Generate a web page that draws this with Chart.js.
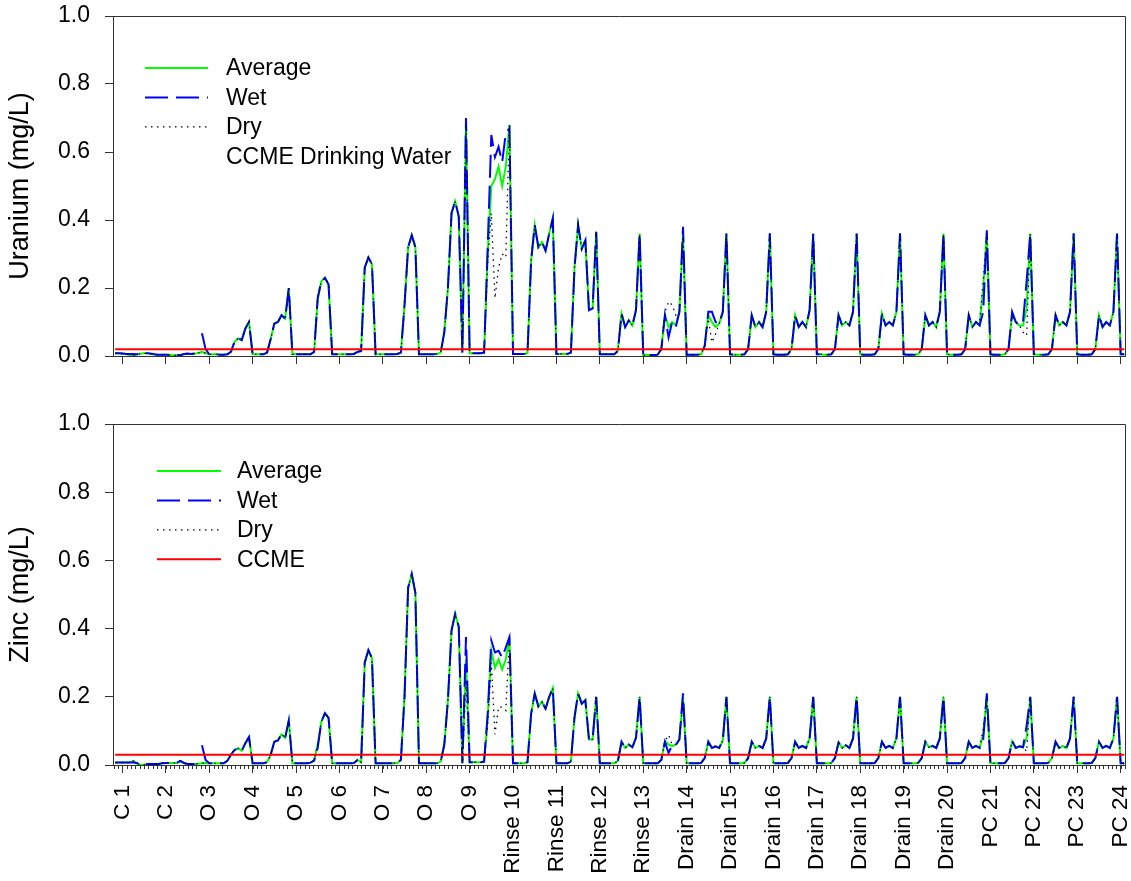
<!DOCTYPE html>
<html>
<head>
<meta charset="utf-8">
<title>Uranium and Zinc</title>
<script src="https://cdn.jsdelivr.net/npm/chart.js@4.4.1/dist/chart.umd.min.js"></script>
<style>
  html, body { margin: 0; padding: 0; background: #fff; }
  #wrap { position: relative; width: 1131px; height: 881px; overflow: hidden; }
  canvas { position: absolute; left: 0; }
  #uranium { top: 0; }
  #zinc { top: 400px; }
</style>
</head>
<body>
<div id="wrap">
  <canvas id="uranium" width="1131" height="400"></canvas>
  <canvas id="zinc" width="1131" height="481"></canvas>
</div>
<script>
// runs along the x axis, 12 samples per run, sample numbers start at 10
const categories = ['C 1', 'C 2', 'O 3', 'O 4', 'O 5', 'O 6', 'O 7', 'O 8', 'O 9',
    'Rinse 10', 'Rinse 11', 'Rinse 12', 'Rinse 13', 'Drain 14', 'Drain 15', 'Drain 16',
    'Drain 17', 'Drain 18', 'Drain 19', 'Drain 20', 'PC 21', 'PC 22', 'PC 23', 'PC 24'];
const samplesPerRun = 12;
const firstSample = 10;
const lastSample = 289;
const yTickValues = [0, 0.2, 0.4, 0.6, 0.8, 1.0];
const yTickLabels = ['0.0', '0.2', '0.4', '0.6', '0.8', '1.0'];

const ccmeUranium = 0.02;
const ccmeZinc = 0.03;

// Uranium (mg/L), one row per run
const uraniumWet = [
    0.008, 0.008,
    0.007, 0.006, 0.006, 0.006, 0.005, 0.007, 0.008, 0.008, 0.007, 0.005, 0.004, 0.004,
    0.004, 0.004, 0.004, 0.003, 0.002, 0.006, 0.007, 0.006, 0.007, null, 0.067, 0.02,
    0.005, 0.005, 0.005, 0.004, 0.004, 0.005, 0.012, 0.042, 0.052, 0.047, 0.081, 0.1,
    0.005, 0.005, 0.005, 0.005, 0.01, 0.05, 0.095, 0.1, 0.12, 0.11, 0.2, 0.005,
    0.005, 0.005, 0.005, 0.005, 0.005, 0.012, 0.17, 0.22, 0.23, 0.21, 0.005, 0.005,
    0.005, 0.005, 0.005, 0.005, 0.006, 0.012, 0.015, 0.26, 0.29, 0.27, 0.005, 0.005,
    0.005, 0.005, 0.005, 0.005, 0.006, 0.01, 0.15, 0.32, 0.355, 0.32, 0.005, 0.005,
    0.005, 0.005, 0.005, 0.006, 0.01, 0.07, 0.2, 0.42, 0.455, 0.41, 0.01, 0.7,
    0.008, 0.008, 0.008, 0.008, 0.01, 0.32, 0.65, 0.585, 0.615, 0.57, 0.655, 0.67,
    0.006, 0.006, 0.006, 0.006, 0.008, 0.28, 0.385, 0.32, 0.335, 0.31, 0.36, 0.405,
    0.006, 0.006, 0.006, 0.006, 0.01, 0.26, 0.385, 0.315, 0.34, 0.135, 0.14, 0.365,
    0.005, 0.005, 0.005, 0.005, 0.005, 0.015, 0.125, 0.085, 0.105, 0.09, 0.135, 0.36,
    0.003, 0.003, 0.003, 0.003, 0.004, 0.02, 0.12, 0.055, 0.1, 0.085, 0.13, 0.38,
    0.004, 0.004, 0.004, 0.004, 0.005, 0.03, 0.13, 0.13, 0.1, 0.095, 0.13, 0.36,
    0.005, 0.004, 0.004, 0.004, 0.005, 0.02, 0.12, 0.085, 0.1, 0.085, 0.13, 0.36,
    0.005, 0.004, 0.004, 0.004, 0.005, 0.02, 0.12, 0.085, 0.1, 0.085, 0.135, 0.36,
    0.005, 0.005, 0.004, 0.004, 0.005, 0.02, 0.12, 0.09, 0.1, 0.09, 0.13, 0.36,
    0.005, 0.004, 0.004, 0.004, 0.005, 0.02, 0.125, 0.09, 0.1, 0.09, 0.13, 0.36,
    0.005, 0.004, 0.004, 0.004, 0.005, 0.02, 0.12, 0.09, 0.1, 0.085, 0.13, 0.36,
    0.005, 0.004, 0.004, 0.004, 0.005, 0.02, 0.12, 0.085, 0.1, 0.09, 0.13, 0.37,
    0.005, 0.004, 0.004, 0.004, 0.005, 0.02, 0.13, 0.1, 0.09, 0.1, 0.22, 0.36,
    0.005, 0.004, 0.004, 0.004, 0.005, 0.02, 0.12, 0.09, 0.1, 0.09, 0.13, 0.36,
    0.005, 0.004, 0.004, 0.004, 0.005, 0.02, 0.12, 0.085, 0.1, 0.09, 0.13, 0.36,
    0.005, 0.005
];
const uraniumAverage = [
    0.008, 0.008,
    0.007, 0.006, 0.003, 0.001, 0.004, 0.007, 0.008, 0.008, 0.006, 0.004, 0.003, 0.004,
    0.004, 0.003, 0.002, 0.002, 0.003, 0.005, 0.006, 0.006, 0.007, 0.009, 0.012, 0.008,
    0.005, 0.005, 0.005, 0.004, 0.004, 0.005, 0.012, 0.042, 0.052, 0.047, 0.081, 0.1,
    0.005, 0.005, 0.005, 0.005, 0.01, 0.05, 0.095, 0.1, 0.12, 0.11, 0.2, 0.005,
    0.005, 0.005, 0.005, 0.005, 0.005, 0.012, 0.17, 0.22, 0.23, 0.21, 0.005, 0.005,
    0.005, 0.005, 0.005, 0.005, 0.006, 0.012, 0.015, 0.26, 0.29, 0.27, 0.005, 0.005,
    0.005, 0.005, 0.005, 0.005, 0.006, 0.01, 0.15, 0.32, 0.355, 0.32, 0.005, 0.005,
    0.005, 0.005, 0.005, 0.006, 0.01, 0.07, 0.2, 0.42, 0.455, 0.41, 0.01, 0.69,
    0.008, 0.008, 0.008, 0.008, 0.01, 0.3, 0.5, 0.52, 0.557, 0.5, 0.557, 0.68,
    0.006, 0.006, 0.006, 0.006, 0.008, 0.28, 0.385, 0.32, 0.335, 0.31, 0.36, 0.405,
    0.006, 0.006, 0.006, 0.006, 0.01, 0.26, 0.385, 0.315, 0.34, 0.135, 0.14, 0.365,
    0.005, 0.005, 0.005, 0.005, 0.005, 0.015, 0.125, 0.085, 0.105, 0.09, 0.135, 0.36,
    0.003, 0.003, 0.003, 0.003, 0.004, 0.02, 0.12, 0.085, 0.1, 0.09, 0.13, 0.36,
    0.004, 0.004, 0.004, 0.004, 0.005, 0.03, 0.12, 0.1, 0.085, 0.095, 0.13, 0.36,
    0.005, 0.004, 0.004, 0.004, 0.005, 0.02, 0.12, 0.085, 0.1, 0.085, 0.13, 0.36,
    0.005, 0.004, 0.004, 0.004, 0.005, 0.02, 0.12, 0.085, 0.1, 0.085, 0.135, 0.36,
    0.005, 0.005, 0.004, 0.004, 0.005, 0.02, 0.12, 0.09, 0.1, 0.09, 0.13, 0.36,
    0.005, 0.004, 0.004, 0.004, 0.005, 0.02, 0.125, 0.09, 0.1, 0.09, 0.13, 0.36,
    0.005, 0.004, 0.004, 0.004, 0.005, 0.02, 0.12, 0.09, 0.1, 0.085, 0.13, 0.36,
    0.005, 0.004, 0.004, 0.004, 0.005, 0.02, 0.12, 0.085, 0.1, 0.09, 0.2, 0.36,
    0.005, 0.004, 0.004, 0.004, 0.005, 0.02, 0.125, 0.1, 0.09, 0.09, 0.14, 0.36,
    0.005, 0.004, 0.004, 0.004, 0.005, 0.02, 0.12, 0.09, 0.1, 0.09, 0.13, 0.36,
    0.005, 0.004, 0.004, 0.004, 0.005, 0.02, 0.12, 0.085, 0.1, 0.09, 0.13, 0.36,
    0.005, 0.005
];
const uraniumDry = [
    0.008, 0.008,
    0.007, 0.006, 0.003, 0.001, 0.004, 0.007, 0.008, 0.008, 0.006, 0.004, 0.003, 0.004,
    0.004, 0.003, 0.002, 0.002, 0.003, 0.005, 0.006, 0.006, 0.007, 0.009, 0.012, 0.008,
    0.005, 0.005, 0.005, 0.004, 0.004, 0.005, 0.012, 0.042, 0.052, 0.047, 0.081, 0.1,
    0.005, 0.005, 0.005, 0.005, 0.01, 0.05, 0.095, 0.1, 0.12, 0.11, 0.2, 0.005,
    0.005, 0.005, 0.005, 0.005, 0.005, 0.012, 0.17, 0.22, 0.23, 0.21, 0.005, 0.005,
    0.005, 0.005, 0.005, 0.005, 0.006, 0.012, 0.015, 0.26, 0.29, 0.27, 0.005, 0.005,
    0.005, 0.005, 0.005, 0.005, 0.006, 0.01, 0.15, 0.32, 0.355, 0.32, 0.005, 0.005,
    0.005, 0.005, 0.005, 0.006, 0.01, 0.07, 0.2, 0.42, 0.455, 0.41, 0.01, 0.68,
    0.008, 0.008, 0.008, 0.008, 0.01, 0.28, 0.42, 0.17, 0.26, 0.3, 0.29, 0.68,
    0.006, 0.006, 0.006, 0.006, 0.008, 0.28, 0.385, 0.32, 0.335, 0.31, 0.36, 0.405,
    0.006, 0.006, 0.006, 0.006, 0.01, 0.26, 0.385, 0.315, 0.34, 0.135, 0.14, 0.365,
    0.005, 0.005, 0.005, 0.005, 0.005, 0.015, 0.125, 0.085, 0.105, 0.09, 0.135, 0.36,
    0.003, 0.003, 0.003, 0.003, 0.004, 0.02, 0.13, 0.16, 0.15, 0.12, 0.13, 0.35,
    0.004, 0.004, 0.004, 0.004, 0.005, 0.03, 0.11, 0.04, 0.065, 0.095, 0.13, 0.36,
    0.005, 0.004, 0.004, 0.004, 0.005, 0.02, 0.12, 0.085, 0.1, 0.085, 0.13, 0.36,
    0.005, 0.004, 0.004, 0.004, 0.005, 0.02, 0.12, 0.085, 0.1, 0.085, 0.135, 0.36,
    0.005, 0.005, 0.004, 0.004, 0.005, 0.02, 0.12, 0.09, 0.1, 0.09, 0.13, 0.36,
    0.005, 0.004, 0.004, 0.004, 0.005, 0.02, 0.125, 0.09, 0.1, 0.09, 0.13, 0.36,
    0.005, 0.004, 0.004, 0.004, 0.005, 0.02, 0.12, 0.09, 0.1, 0.085, 0.13, 0.36,
    0.005, 0.004, 0.004, 0.004, 0.005, 0.02, 0.12, 0.085, 0.1, 0.1, 0.22, 0.35,
    0.005, 0.004, 0.004, 0.004, 0.005, 0.02, 0.12, 0.1, 0.09, 0.07, 0.06, 0.36,
    0.005, 0.004, 0.004, 0.004, 0.005, 0.02, 0.12, 0.09, 0.1, 0.09, 0.13, 0.36,
    0.005, 0.004, 0.004, 0.004, 0.005, 0.02, 0.12, 0.085, 0.1, 0.09, 0.13, 0.36,
    0.005, 0.005
];

// Zinc (mg/L), one row per run
const zincWet = [
    0.007, 0.007,
    0.007, 0.007, 0.007, 0.007, 0.006, 0.004, 0.003, 0.003, 0.003, 0.003, 0.003, 0.005,
    0.006, 0.006, 0.006, 0.006, 0.012, 0.006, 0.003, 0.003, 0.003, null, 0.058, 0.015,
    0.005, 0.005, 0.005, 0.005, 0.005, 0.012, 0.03, 0.044, 0.049, 0.042, 0.064, 0.082,
    0.005, 0.005, 0.005, 0.005, 0.008, 0.03, 0.068, 0.072, 0.09, 0.08, 0.13, 0.005,
    0.005, 0.005, 0.005, 0.005, 0.007, 0.013, 0.05, 0.127, 0.152, 0.138, 0.005, 0.005,
    0.005, 0.005, 0.005, 0.005, 0.006, 0.015, 0.008, 0.3, 0.337, 0.313, 0.005, 0.005,
    0.005, 0.005, 0.005, 0.005, 0.006, 0.015, 0.2, 0.52, 0.56, 0.505, 0.005, 0.005,
    0.005, 0.005, 0.005, 0.005, 0.01, 0.06, 0.19, 0.395, 0.443, 0.405, 0.005, 0.375,
    0.008, 0.008, 0.008, 0.008, 0.01, 0.15, 0.365, 0.33, 0.335, 0.315, 0.345, 0.375,
    0.005, 0.005, 0.005, 0.005, 0.008, 0.15, 0.21, 0.172, 0.185, 0.165, 0.2, 0.225,
    0.005, 0.005, 0.005, 0.005, 0.01, 0.14, 0.21, 0.18, 0.19, 0.075, 0.075, 0.2,
    0.005, 0.005, 0.005, 0.005, 0.005, 0.012, 0.068, 0.05, 0.06, 0.052, 0.08, 0.2,
    0.005, 0.005, 0.005, 0.005, 0.005, 0.015, 0.068, 0.035, 0.058, 0.058, 0.075, 0.21,
    0.005, 0.005, 0.005, 0.005, 0.006, 0.02, 0.068, 0.05, 0.055, 0.05, 0.072, 0.2,
    0.005, 0.005, 0.005, 0.005, 0.006, 0.02, 0.068, 0.05, 0.056, 0.05, 0.078, 0.2,
    0.005, 0.005, 0.005, 0.005, 0.006, 0.02, 0.068, 0.05, 0.056, 0.05, 0.078, 0.2,
    0.005, 0.005, 0.005, 0.005, 0.006, 0.02, 0.066, 0.05, 0.058, 0.05, 0.078, 0.2,
    0.005, 0.005, 0.005, 0.005, 0.006, 0.02, 0.068, 0.05, 0.056, 0.05, 0.078, 0.2,
    0.005, 0.005, 0.005, 0.005, 0.006, 0.02, 0.068, 0.052, 0.056, 0.05, 0.078, 0.2,
    0.005, 0.005, 0.005, 0.005, 0.006, 0.02, 0.068, 0.05, 0.056, 0.05, 0.075, 0.21,
    0.005, 0.005, 0.005, 0.005, 0.006, 0.02, 0.07, 0.05, 0.055, 0.052, 0.115, 0.2,
    0.005, 0.005, 0.005, 0.005, 0.006, 0.02, 0.068, 0.05, 0.056, 0.05, 0.078, 0.2,
    0.005, 0.005, 0.005, 0.005, 0.006, 0.02, 0.068, 0.05, 0.056, 0.05, 0.078, 0.2,
    0.005, 0.005
];
const zincAverage = [
    0.007, 0.007,
    0.007, 0.007, 0.007, 0.012, 0.004, 0.001, 0.001, 0.003, 0.003, 0.003, 0.003, 0.005,
    0.006, 0.006, 0.006, 0.006, 0.012, 0.006, 0.003, 0.003, 0.003, 0.004, 0.005, 0.006,
    0.005, 0.005, 0.005, 0.005, 0.005, 0.012, 0.03, 0.044, 0.049, 0.042, 0.064, 0.082,
    0.005, 0.005, 0.005, 0.005, 0.008, 0.03, 0.068, 0.072, 0.09, 0.08, 0.13, 0.005,
    0.005, 0.005, 0.005, 0.005, 0.007, 0.013, 0.06, 0.127, 0.152, 0.138, 0.005, 0.005,
    0.005, 0.005, 0.005, 0.005, 0.006, 0.015, 0.008, 0.3, 0.337, 0.313, 0.005, 0.005,
    0.005, 0.005, 0.005, 0.005, 0.006, 0.015, 0.2, 0.52, 0.56, 0.505, 0.005, 0.005,
    0.005, 0.005, 0.005, 0.005, 0.01, 0.06, 0.19, 0.395, 0.443, 0.405, 0.005, 0.31,
    0.008, 0.008, 0.008, 0.008, 0.01, 0.14, 0.335, 0.285, 0.31, 0.28, 0.31, 0.375,
    0.005, 0.005, 0.005, 0.005, 0.008, 0.15, 0.21, 0.172, 0.185, 0.165, 0.2, 0.225,
    0.005, 0.005, 0.005, 0.005, 0.01, 0.14, 0.21, 0.18, 0.19, 0.075, 0.075, 0.2,
    0.005, 0.005, 0.005, 0.005, 0.005, 0.012, 0.068, 0.05, 0.06, 0.052, 0.08, 0.2,
    0.005, 0.005, 0.005, 0.005, 0.005, 0.015, 0.07, 0.06, 0.055, 0.06, 0.075, 0.2,
    0.005, 0.005, 0.005, 0.005, 0.006, 0.02, 0.068, 0.05, 0.055, 0.05, 0.072, 0.2,
    0.005, 0.005, 0.005, 0.005, 0.006, 0.02, 0.068, 0.05, 0.056, 0.05, 0.078, 0.2,
    0.005, 0.005, 0.005, 0.005, 0.006, 0.02, 0.068, 0.05, 0.056, 0.05, 0.078, 0.2,
    0.005, 0.005, 0.005, 0.005, 0.006, 0.02, 0.066, 0.05, 0.058, 0.05, 0.078, 0.2,
    0.005, 0.005, 0.005, 0.005, 0.006, 0.02, 0.068, 0.05, 0.056, 0.05, 0.078, 0.2,
    0.005, 0.005, 0.005, 0.005, 0.006, 0.02, 0.068, 0.052, 0.056, 0.05, 0.078, 0.2,
    0.005, 0.005, 0.005, 0.005, 0.006, 0.02, 0.068, 0.05, 0.056, 0.05, 0.09, 0.2,
    0.005, 0.005, 0.005, 0.005, 0.006, 0.02, 0.07, 0.05, 0.055, 0.052, 0.08, 0.2,
    0.005, 0.005, 0.005, 0.005, 0.006, 0.02, 0.068, 0.05, 0.056, 0.05, 0.078, 0.2,
    0.005, 0.005, 0.005, 0.005, 0.006, 0.02, 0.068, 0.05, 0.056, 0.05, 0.078, 0.2,
    0.005, 0.005
];
const zincDry = [
    0.007, 0.007,
    0.007, 0.007, 0.007, 0.012, 0.004, 0.001, 0.001, 0.003, 0.003, 0.003, 0.003, 0.005,
    0.006, 0.006, 0.006, 0.006, 0.012, 0.006, 0.003, 0.003, 0.003, 0.004, 0.005, 0.006,
    0.005, 0.005, 0.005, 0.005, 0.005, 0.012, 0.03, 0.044, 0.049, 0.042, 0.064, 0.082,
    0.005, 0.005, 0.005, 0.005, 0.008, 0.03, 0.068, 0.072, 0.09, 0.08, 0.13, 0.005,
    0.005, 0.005, 0.005, 0.005, 0.007, 0.013, 0.06, 0.127, 0.152, 0.138, 0.005, 0.005,
    0.005, 0.005, 0.005, 0.005, 0.006, 0.015, 0.008, 0.3, 0.337, 0.313, 0.005, 0.005,
    0.005, 0.005, 0.005, 0.005, 0.006, 0.015, 0.2, 0.52, 0.56, 0.505, 0.005, 0.005,
    0.005, 0.005, 0.005, 0.005, 0.01, 0.06, 0.19, 0.395, 0.443, 0.405, 0.005, 0.25,
    0.008, 0.008, 0.008, 0.008, 0.01, 0.12, 0.3, 0.09, 0.17, 0.17, 0.16, 0.37,
    0.005, 0.005, 0.005, 0.005, 0.008, 0.15, 0.21, 0.172, 0.185, 0.165, 0.2, 0.225,
    0.005, 0.005, 0.005, 0.005, 0.01, 0.14, 0.21, 0.18, 0.19, 0.075, 0.075, 0.2,
    0.005, 0.005, 0.005, 0.005, 0.005, 0.012, 0.068, 0.05, 0.06, 0.052, 0.08, 0.2,
    0.005, 0.005, 0.005, 0.005, 0.005, 0.015, 0.07, 0.088, 0.06, 0.06, 0.075, 0.19,
    0.005, 0.005, 0.005, 0.005, 0.006, 0.02, 0.068, 0.05, 0.055, 0.05, 0.072, 0.2,
    0.005, 0.005, 0.005, 0.005, 0.006, 0.02, 0.068, 0.05, 0.056, 0.05, 0.078, 0.2,
    0.005, 0.005, 0.005, 0.005, 0.006, 0.02, 0.068, 0.05, 0.056, 0.05, 0.078, 0.2,
    0.005, 0.005, 0.005, 0.005, 0.006, 0.02, 0.066, 0.05, 0.058, 0.05, 0.078, 0.2,
    0.005, 0.005, 0.005, 0.005, 0.006, 0.02, 0.068, 0.05, 0.056, 0.05, 0.078, 0.2,
    0.005, 0.005, 0.005, 0.005, 0.006, 0.02, 0.068, 0.052, 0.056, 0.05, 0.078, 0.2,
    0.005, 0.005, 0.005, 0.005, 0.006, 0.02, 0.068, 0.05, 0.056, 0.05, 0.105, 0.19,
    0.005, 0.005, 0.005, 0.005, 0.006, 0.02, 0.07, 0.05, 0.055, 0.052, 0.04, 0.2,
    0.005, 0.005, 0.005, 0.005, 0.006, 0.02, 0.068, 0.05, 0.056, 0.05, 0.078, 0.2,
    0.005, 0.005, 0.005, 0.005, 0.006, 0.02, 0.068, 0.05, 0.056, 0.05, 0.078, 0.2,
    0.005, 0.005
];

const FONT = '"Liberation Sans", Arial, sans-serif';
const AXIS_COLOR = '#333';
const X_MIN = 9.4;
const X_MAX = 289.2;

const toPoints = (values) => values.map((v, i) => ({ x: firstSample + i, y: v }));

// top and right edges of the plot frame
const frame = {
    id: 'frame',
    afterDraw(chart) {
        const { ctx, chartArea: a } = chart;
        ctx.save();
        ctx.strokeStyle = AXIS_COLOR;
        ctx.lineWidth = 1;
        ctx.beginPath();
        ctx.moveTo(a.left, a.top + 0.5);
        ctx.lineTo(a.right + 0.5, a.top + 0.5);
        ctx.lineTo(a.right + 0.5, a.bottom);
        ctx.stroke();
        ctx.restore();
    }
};

// short minor ticks under the x axis
const minorTicks = {
    id: 'minorTicks',
    afterDraw(chart, args, opts) {
        if (!opts.step) return;
        const { ctx, chartArea: a, scales: { x } } = chart;
        ctx.save();
        ctx.strokeStyle = AXIS_COLOR;
        ctx.lineWidth = 1;
        ctx.beginPath();
        for (let v = samplesPerRun; v <= X_MAX; v += opts.step) {
            const px = Math.round(x.getPixelForValue(v)) + 0.5;
            ctx.moveTo(px, a.bottom);
            ctx.lineTo(px, a.bottom + opts.length);
        }
        for (let v = samplesPerRun - opts.step; v >= X_MIN; v -= opts.step) {
            const px = Math.round(x.getPixelForValue(v)) + 0.5;
            ctx.moveTo(px, a.bottom);
            ctx.lineTo(px, a.bottom + opts.length);
        }
        ctx.stroke();
        ctx.restore();
    }
};

// legend drawn inside the plot area, like the original
const panelLegend = {
    id: 'panelLegend',
    afterDraw(chart, args, opts) {
        const { ctx, chartArea: a } = chart;
        ctx.save();
        ctx.font = '23px ' + FONT;
        ctx.textBaseline = 'middle';
        ctx.fillStyle = '#000';
        opts.items.forEach((item, i) => {
            const y = a.top + opts.top + i * opts.rowGap;
            const ds = chart.data.datasets[item.dataset];
            if (item.sample) {
                ctx.beginPath();
                ctx.strokeStyle = ds.borderColor;
                ctx.lineWidth = ds.borderWidth;
                ctx.setLineDash(ds.borderDash || []);
                ctx.moveTo(a.left + opts.lineStart, y);
                ctx.lineTo(a.left + opts.lineEnd, y);
                ctx.stroke();
                ctx.setLineDash([]);
            }
            ctx.fillText(ds.label, a.left + opts.textStart, y + 1);
        });
        ctx.restore();
    }
};

function makePanel(canvasId, cfg) {
    return new Chart(document.getElementById(canvasId), {
        type: 'line',
        data: {
            datasets: [
                { label: 'Average', data: toPoints(cfg.average), borderColor: '#00ff00',
                  borderWidth: 2, order: 3 },
                { label: 'Wet', data: toPoints(cfg.wet), borderColor: '#0000ff',
                  borderWidth: 2, borderDash: [23, 8], order: 2 },
                { label: 'Dry', data: toPoints(cfg.dry), borderColor: '#000000',
                  borderWidth: 1.3, borderDash: [1.5, 4.5], order: 1 },
                { label: cfg.ccmeLabel,
                  data: [{ x: firstSample, y: cfg.ccme }, { x: lastSample, y: cfg.ccme }],
                  borderColor: '#ff0000', borderWidth: 2, order: 0 }
            ]
        },
        options: {
            responsive: false,
            animation: false,
            devicePixelRatio: 1,
            spanGaps: false,
            elements: { point: { radius: 0 }, line: { tension: 0, fill: false } },
            layout: { padding: { top: cfg.padTop, right: 6, left: 0, bottom: 0 } },
            scales: {
                x: {
                    type: 'linear',
                    min: X_MIN,
                    max: X_MAX,
                    afterBuildTicks(scale) {
                        scale.ticks = categories.map((c, i) => ({ value: samplesPerRun * (i + 1) }));
                    },
                    afterFit(scale) {
                        scale.height = cfg.xAxisHeight;
                        scale.paddingLeft = 0;
                        scale.paddingRight = 0;
                    },
                    ticks: {
                        display: cfg.showLabels,
                        autoSkip: false,
                        minRotation: 90,
                        maxRotation: 90,
                        padding: 12,
                        color: '#000',
                        font: { family: FONT, size: 22.5 },
                        callback: (v, i) => categories[i]
                    },
                    grid: { drawOnChartArea: false, drawTicks: true, tickLength: 8,
                            color: AXIS_COLOR, tickColor: AXIS_COLOR },
                    border: { display: true, color: AXIS_COLOR, width: 1 }
                },
                y: {
                    min: 0,
                    max: 1,
                    afterBuildTicks(scale) {
                        scale.ticks = yTickValues.map(v => ({ value: v }));
                    },
                    afterFit(scale) {
                        scale.width = 113;
                        scale.paddingTop = 0;
                        scale.paddingBottom = 0;
                    },
                    ticks: {
                        padding: 15,
                        color: '#000',
                        font: { family: FONT, size: 23 },
                        callback: (v, i) => yTickLabels[i]
                    },
                    grid: { drawOnChartArea: false, drawTicks: true, tickLength: 8,
                            color: AXIS_COLOR, tickColor: AXIS_COLOR },
                    border: { display: true, color: AXIS_COLOR, width: 1 },
                    title: {
                        display: true,
                        text: cfg.title,
                        color: '#000',
                        font: { family: FONT, size: 27 },
                        padding: { top: 4, bottom: 0 }
                    }
                }
            },
            plugins: {
                legend: { display: false },
                tooltip: { enabled: false },
                minorTicks: { step: cfg.minorStep, length: 4 },
                panelLegend: cfg.legend
            }
        },
        plugins: [frame, minorTicks, panelLegend]
    });
}

makePanel('uranium', {
    title: 'Uranium (mg/L)',
    wet: uraniumWet, average: uraniumAverage, dry: uraniumDry,
    ccme: ccmeUranium, ccmeLabel: 'CCME Drinking Water',
    padTop: 16, xAxisHeight: 44, showLabels: false, minorStep: 0,
    legend: {
        top: 52, rowGap: 29.4, lineStart: 32, lineEnd: 95, textStart: 113,
        items: [
            { dataset: 0, sample: true },
            { dataset: 1, sample: true },
            { dataset: 2, sample: true },
            { dataset: 3, sample: false }
        ]
    }
});

makePanel('zinc', {
    title: 'Zinc (mg/L)',
    wet: zincWet, average: zincAverage, dry: zincDry,
    ccme: ccmeZinc, ccmeLabel: 'CCME',
    padTop: 24, xAxisHeight: 116, showLabels: true, minorStep: 1.2,
    legend: {
        top: 47, rowGap: 29.4, lineStart: 44, lineEnd: 108, textStart: 124,
        items: [
            { dataset: 0, sample: true },
            { dataset: 1, sample: true },
            { dataset: 2, sample: true },
            { dataset: 3, sample: true }
        ]
    }
});
</script>
</body>
</html>
